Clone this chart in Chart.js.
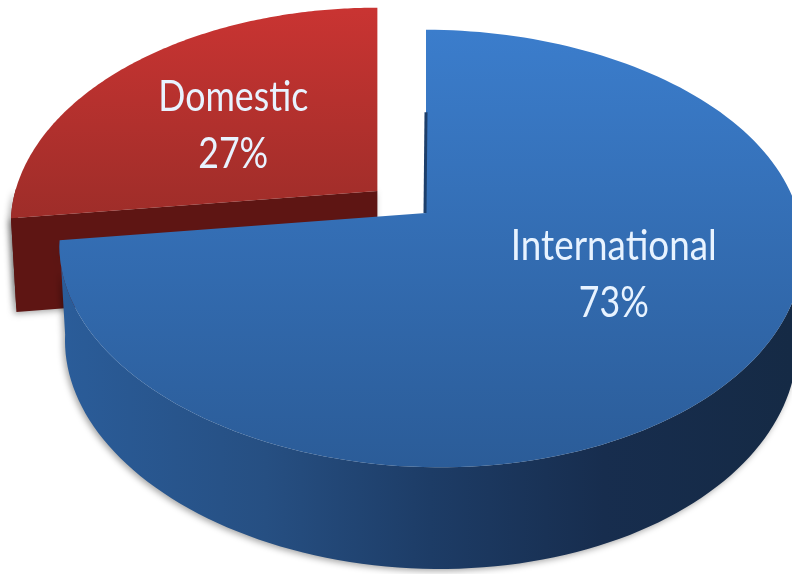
<!DOCTYPE html>
<html>
<head>
<meta charset="utf-8">
<style>
  html, body { margin: 0; padding: 0; background: #fff; }
  #wrap { width: 792px; height: 574px; }
</style>
<script src="https://cdn.jsdelivr.net/npm/chart.js@4/dist/chart.umd.js"></script>
</head>
<body>
<div id="wrap"><canvas id="pie"></canvas></div>
<script>
const categories = ['International', 'Domestic'];
const shares = [73, 27];
const explode = [0, 36];

// 3D look: pie plane is tilted with a simple perspective
const TILT = 0.1625, DEPTH = 93, SCALE_X = 362 / 195, SCALE_Y = 213 / 195;
// label spots in pie units (u right, v towards viewer)
const labelSpots = [[0.485, 0.29], [-0.569, -0.421]];
const faceStops = [['#3b7dcc', '#2b5c98'], ['#c93432', '#9e2d29']];

const pie3d = {
  id: 'pie3d',
  beforeDatasetsDraw(chart) {
    const ctx = chart.ctx;
    const arcs = chart.getDatasetMeta(0).data;

    const project = (arc, u, v, z) => {
      const w = 1 - TILT * v;
      const r = arc.outerRadius;
      // small warp, the original bulges to the lower right
      const warp = (u > 0 ? 10 * u * u : 0) + (v > 0 ? 14 * v * v : 0);
      const x = r * SCALE_X * u / w + warp;
      return {
        x: arc.x + x * (1 - 0.015 * z),
        y: arc.y + r * SCALE_Y * v / w + z * DEPTH / Math.sqrt(w)
      };
    };
    // exploding moves the slice on screen, not in the pie plane
    const moved = (arc, p) => {
      const mid = (arc.startAngle + arc.endAngle) / 2;
      const d = arc.options.offset;
      return {
        x: p.x + Math.cos(mid) * d * SCALE_X * 0.97,
        y: p.y + Math.sin(mid) * d * SCALE_Y * 0.85
      };
    };
    // outer edge of a slice, frontOnly keeps the part that faces the viewer
    const rim = (arc, z, frontOnly) => {
      const pts = [];
      const n = 160;
      for (let i = 0; i <= n; i++) {
        const a = arc.startAngle + (arc.endAngle - arc.startAngle) * i / n;
        if (frontOnly && Math.sin(a) < -0.02) continue;
        pts.push(moved(arc, project(arc, Math.cos(a), Math.sin(a), z)));
      }
      return pts;
    };
    const fillPts = (pts, style) => {
      ctx.beginPath();
      pts.forEach((p, i) => i ? ctx.lineTo(p.x, p.y) : ctx.moveTo(p.x, p.y));
      ctx.closePath();
      ctx.fillStyle = style;
      ctx.fill();
    };
    const apex = (arc, z) => moved(arc, project(arc, 0, 0, z));

    const drawSlice = (index, wallStops) => {
      const arc = arcs[index];
      const top = rim(arc, 0, false);
      const wall = ctx.createLinearGradient(40, 0, 792, 0);
      wallStops.forEach(([at, c]) => wall.addColorStop(at, c));

      ctx.save();
      ctx.shadowColor = 'rgba(0,0,0,0.35)';
      ctx.shadowBlur = 6;
      ctx.shadowOffsetX = -2;
      ctx.shadowOffsetY = 2;
      const lower = rim(arc, 1, true);
      fillPts(rim(arc, 0, true).concat(lower.slice().reverse()), wall);
      if (index === 1) {
        // radial wall of the red slice, shows above the blue one
        fillPts([top[0], apex(arc, 0), apex(arc, 1), lower[0]], '#5e1513');
      }
      ctx.restore();

      const face = ctx.createLinearGradient(0, Math.min(...top.map(p => p.y)), 0, Math.max(...top.map(p => p.y)));
      face.addColorStop(0, faceStops[index][0]);
      face.addColorStop(1, faceStops[index][1]);
      fillPts(top.concat([apex(arc, 0)]), face);

      if (index === 0) {
        // dark sliver along the upper cut of the blue slice
        const a = apex(arc, 0), e = top[0];
        ctx.beginPath();
        ctx.moveTo(a.x - 1, a.y);
        ctx.lineTo(a.x + (e.x - a.x) * 0.55, a.y + (e.y - a.y) * 0.55);
        ctx.lineWidth = 3;
        ctx.strokeStyle = '#1d3f6b';
        ctx.stroke();
      }
    };

    drawSlice(1, [[0, '#741311'], [1, '#5e1513']]);
    drawSlice(0, [[0, '#2b5e9c'], [0.3, '#264f82'], [0.52, '#1d3c66'], [0.75, '#172d4e'], [1, '#152a45']]);

    // labels
    ctx.fillStyle = '#e8f3ff';
    ctx.textAlign = 'center';
    ctx.textBaseline = 'alphabetic';
    ctx.font = '43px Lato, "Open Sans", sans-serif';
    arcs.forEach((arc, i) => {
      const p = project(arc, labelSpots[i][0], labelSpots[i][1], 0);
      ctx.fillText(categories[i], p.x, p.y - 18, i === 0 ? 206 : 150);
      ctx.fillText(shares[i] + '%', p.x, p.y + 39, 70);
    });
    return false;
  }
};

new Chart(document.getElementById('pie'), {
  type: 'pie',
  data: {
    labels: categories,
    datasets: [{ data: shares, offset: explode, borderWidth: 0 }]
  },
  options: {
    responsive: true,
    maintainAspectRatio: false,
    animation: false,
    layout: { padding: { left: 60, bottom: 148 } },
    plugins: { legend: { display: false }, tooltip: { enabled: false } }
  },
  plugins: [pie3d]
});
</script>
</body>
</html>
